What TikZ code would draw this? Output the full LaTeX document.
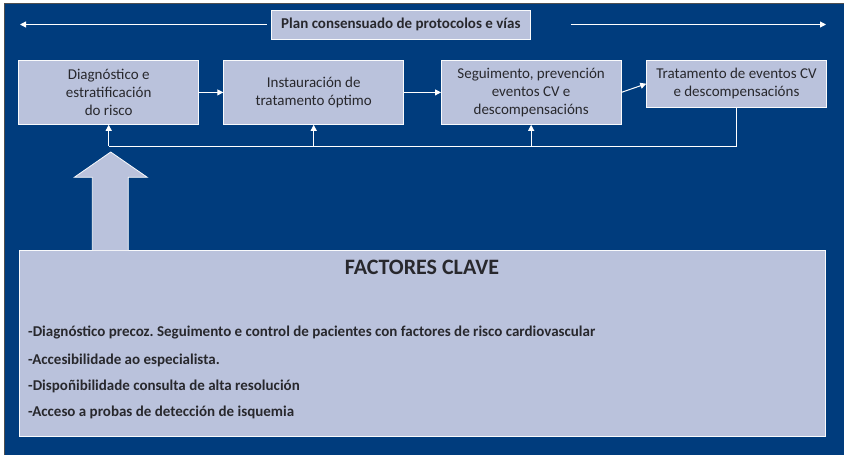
\documentclass[tikz,border=0pt]{standalone}
\usepackage{fontspec}
\setmainfont{Carlito}
\frenchspacing
\usetikzlibrary{arrows.meta}
\definecolor{bgblue}{RGB}{0,60,125}
\definecolor{boxfill}{RGB}{186,194,220}
\definecolor{txt}{RGB}{40,40,45}
\definecolor{edgegray}{RGB}{80,80,80}
\tikzset{
  stagebox/.style={draw=white!92!boxfill, line width=0.8pt, fill=boxfill, text=txt, align=center, font=\fontsize{15}{18}\selectfont, inner sep=0pt},
  keyline/.style={text=txt, font=\bfseries\fontsize{15}{18}\selectfont, anchor=west, inner sep=0pt},
  flow/.style={draw=white, line width=1pt, -{Triangle[length=6pt,width=6pt]}},
  feed/.style={draw=white, line width=1pt},
}
\begin{document}
\begin{tikzpicture}[x=1pt,y=-1pt]
\useasboundingbox (0,0) rectangle (844,455);
\fill[white] (0,0) rectangle (844,455);
\filldraw[fill=bgblue, draw=edgegray, line width=0.8pt] (4.5,3.5) rectangle (846,458);

% plan box
\node[stagebox, font=\bfseries\fontsize{15}{18}\selectfont, minimum width=259.5pt, minimum height=29pt, anchor=north west] (plan) at (270.7,10) {Plan consensuado de protocolos e vías};
\coordinate (pl) at (20,24.5);
\coordinate (pr) at (826,24.5);
\coordinate (plstart) at (266.7,24.5);
\coordinate (prstart) at (570.7,24.5);
\draw[flow] (plstart) -- (pl);
\draw[flow] (prstart) -- (pr);

% stage boxes
\node[stagebox, minimum width=180pt, minimum height=64pt, anchor=north west] (b1) at (18.3,60) {Diagnóstico e\\estratificación\\do risco};
\node[stagebox, minimum width=180pt, minimum height=64pt, anchor=north west] (b2) at (223.3,60) {Instauración de\\tratamento óptimo};
\node[stagebox, minimum width=179.5pt, minimum height=64pt, anchor=north west] (b3) at (441,60) {Seguimento, prevención\\eventos CV e\\descompensacións};
\node[stagebox, minimum width=179.5pt, minimum height=46.7pt, anchor=north west] (b4) at (646.3,60) {Tratamento de eventos CV\\e descompensacións};

\draw[flow] (b1) -- (b2);
\draw[flow] (b2) -- (b3);
\draw[flow] (b3.east) -- (b4.west);

% feedback loop
\coordinate (f4) at (736,146);
\coordinate (f1) at (b1.south |- f4);
\coordinate (f2) at (b2.south |- f4);
\coordinate (f3) at (b3.south |- f4);
\draw[feed] (b4.south -| f4) -- (f4) -- (f1);
\draw[flow] (f1) -- (b1.south);
\draw[flow] (f2) -- (b2.south);
\draw[flow] (f3) -- (b3.south);

% key factors box
\node[stagebox, minimum width=806pt, minimum height=186pt, anchor=north west] (key) at (19,250) {};
\node[text=txt, font=\bfseries\fontsize{22}{26}\selectfont, anchor=north, inner sep=0pt] (title) at (422,260) {FACTORES CLAVE};
\node[keyline] (l1) at (28,332) {-Diagnóstico precoz. Seguimento e control de pacientes con factores de risco cardiovascular};
\node[keyline] (l2) at (28,360) {-Accesibilidade ao especialista.};
\node[keyline] (l3) at (28,386) {-Dispoñibilidade consulta de alta resolución};
\node[keyline] (l4) at (28,412) {-Acceso a probas de detección de isquemia};

% big arrow
\filldraw[fill=boxfill, draw=white!92!boxfill, line width=0.8pt] (92.3,250) -- (92.3,177.3) -- (74.3,177.3) -- (110.7,152) -- (147.3,177.3) -- (128.3,177.3) -- (128.3,250);
\end{tikzpicture}
\end{document}
